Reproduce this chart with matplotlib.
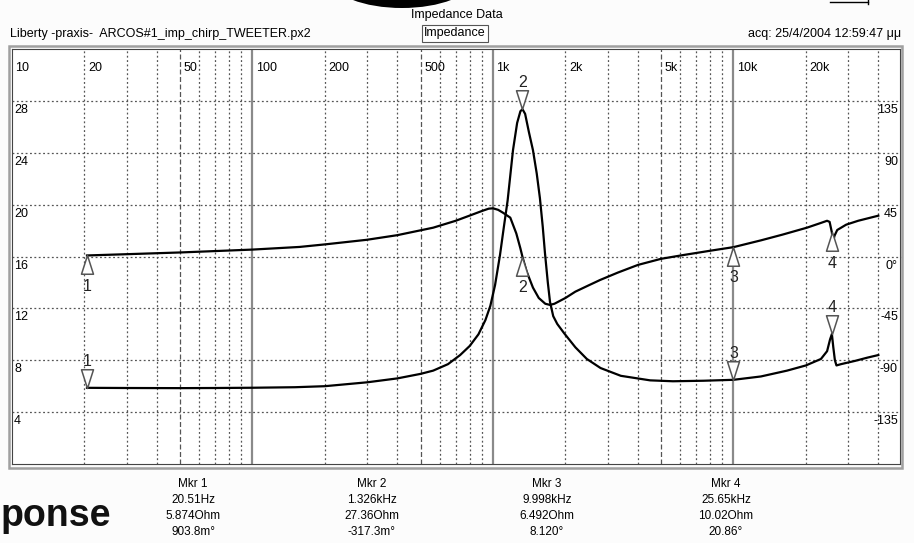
import matplotlib
matplotlib.use("Agg")
import matplotlib.pyplot as plt
from matplotlib.patches import Ellipse, Rectangle
from matplotlib.path import Path

plt.rcParams['font.family'] = ['Liberation Sans', 'DejaVu Sans']

# impedance magnitude (Hz, Ohm)
freq_mag = [20.5, 30, 50, 70, 100, 150, 200, 300, 400, 500, 564, 650, 730, 800,
            870, 930, 975, 1020, 1069, 1110, 1150, 1211, 1260, 1300, 1326, 1360,
            1410, 1466, 1520, 1567, 1610, 1644, 1690, 1726, 1780, 1850, 1973, 2200,
            2455, 2800, 3400, 4500, 5600, 7500, 9998, 13000, 16700, 20000, 23100,
            24500, 25200, 25650, 26000, 26400, 26800, 28000, 32000, 36000, 40000]
ohm_mag = [5.874, 5.86, 5.85, 5.86, 5.88, 5.92, 6.0, 6.3, 6.6, 6.95, 7.2, 7.7, 8.4, 9.1,
           10.0, 11.1, 12.2, 13.8, 16.1, 18.3, 20.3, 24.2, 26.3, 27.2, 27.36, 27.0,
           25.6, 24.2, 22.4, 20.5, 18.3, 16.3, 14.0, 12.5, 11.4, 10.8, 10.1, 9.0,
           8.1, 7.4, 6.8, 6.45, 6.38, 6.42, 6.492, 6.75, 7.2, 7.6, 8.1,
           8.7, 9.6, 10.02, 9.0, 8.0, 7.6, 7.7, 7.95, 8.2, 8.4]

# impedance phase (Hz, degrees)
freq_phase = [20.5, 30, 50, 100, 157, 200, 299, 400, 564, 700, 800, 900, 960, 1000,
              1050, 1100, 1180, 1250, 1300, 1326, 1380, 1466, 1550, 1650, 1726, 1800,
              2000, 2200, 2500, 2786, 3300, 4006, 5000, 6200, 8000, 9998, 13000,
              16000, 20200, 23000, 24500, 25100, 25650, 25900, 26300, 27000, 29400,
              33000, 40000]
deg_phase = [0.9038, 2.0, 3.5, 6.0, 8.3, 10.5, 14.5, 18.5, 25.0, 31.0, 35.5, 39.5, 41.5, 41.8,
             40.5, 38.0, 33.7, 20.0, 7.0, -0.3173, -13.0, -27.0, -36.0, -41.0, -42.0, -41.0,
             -36.0, -30.5, -25.0, -20.4, -14.0, -7.3, -2.0, 1.3, 5.0, 8.12, 14.0,
             19.0, 25.0, 29.0, 31.0, 30.0, 20.86, 12.0, 18.0, 23.0, 27.6,
             31.0, 35.4]

# markers
mkr_freq = [20.51, 1326, 9998, 25650]
mkr_ohm = [5.874, 27.36, 6.492, 10.02]
mkr_deg = [0.9038, -0.3173, 8.120, 20.86]
mkr_names = ["1", "2", "3", "4"]
mkr_rows = [["Mkr 1", "20.51Hz", "5.874Ohm", "903.8m°"],
            ["Mkr 2", "1.326kHz", "27.36Ohm", "-317.3m°"],
            ["Mkr 3", "9.998kHz", "6.492Ohm", "8.120°"],
            ["Mkr 4", "25.65kHz", "10.02Ohm", "20.86°"]]

# axes labels
x_ticks = [10, 20, 50, 100, 200, 500, 1000, 2000, 5000, 10000, 20000]
x_labels = ["10", "20", "50", "100", "200", "500", "1k", "2k", "5k", "10k", "20k"]
ohm_ticks = [4, 8, 12, 16, 20, 24, 28]
deg_ticks = [-135, -90, -45, 0, 45, 90, 135]
deg_labels = ["-135", "-90", "-45", "0°", "45", "90", "135"]

W, H = 914, 543
fig = plt.figure(figsize=(W / 100, H / 100), dpi=100)
fig.patch.set_facecolor('#fcfcfc')

# overlay in pixel coords for the page decorations
ov = fig.add_axes([0, 0, 1, 1], zorder=0)
ov.set_xlim(0, W)
ov.set_ylim(H, 0)
ov.axis('off')

L, R, T, B = 12, 900, 49, 464
ax = fig.add_axes([L / W, (H - B) / H, (R - L) / W, (B - T) / H], zorder=1)
ax.set_xscale('log')
xmax = 10 ** (1 + (R - L) / 240.5)
ax.set_xlim(10, xmax)
ax.set_ylim(0, 32)
ax.set_xticks([])
ax.set_yticks([])
ax.minorticks_off()
for s in ax.spines.values():
    s.set_color('#444444')
    s.set_linewidth(0.8)

# grid
dot = (0, (1.5, 2))
for dec in [10, 100, 1000, 10000]:
    for m in range(1, 10):
        f = dec * m
        if f <= 10 or f >= xmax:
            continue
        if m == 1:
            ax.axvline(f, color='#8a8a8a', lw=1.6, zorder=1)
        elif m == 5:
            ax.axvline(f, color='#555555', lw=0.9, ls=(0, (4, 2)), zorder=1)
        else:
            ax.axvline(f, color='#555555', lw=0.9, ls=dot, zorder=1)
for t in ohm_ticks:
    ax.axhline(t, color='#555555', lw=0.9, ls=dot, zorder=1)

# phase axis, same box
ax2 = ax.twinx()
ax2.set_ylim(-180, 180)
ax2.set_yticks([])
ax2.minorticks_off()
for s in ax2.spines.values():
    s.set_visible(False)

ax.plot(freq_mag, ohm_mag, color='black', lw=1.6, zorder=3)
ax2.plot(freq_phase, deg_phase, color='black', lw=1.6, zorder=3)

# triangle markers with the tip on the trace
down_tri = Path([(0, 0), (-0.32, 1), (0.32, 1), (0, 0)], closed=True)
up_tri = Path([(0, 0), (-0.32, -1), (0.32, -1), (0, 0)], closed=True)
ax.plot(mkr_freq, mkr_ohm, ls='none', marker=down_tri, ms=27, mfc='white',
        mec='#555555', mew=1.1, zorder=4)
ax2.plot(mkr_freq, mkr_deg, ls='none', marker=up_tri, ms=27, mfc='white',
         mec='#555555', mew=1.1, zorder=4)
for f, z, p, n in zip(mkr_freq, mkr_ohm, mkr_deg, mkr_names):
    ax.annotate(n, (f, z), xytext=(0, 19), textcoords='offset points',
                ha='center', va='center', fontsize=11.5, color='#222222')
    ax2.annotate(n, (f, p), xytext=(0, -22), textcoords='offset points',
                 ha='center', va='center', fontsize=11.5, color='#222222')

# inside tick labels
for f, lbl in zip(x_ticks, x_labels):
    ax.annotate(lbl, (f, 32), xytext=(2.5, -13.5), textcoords='offset points',
                ha='left', va='center', fontsize=9)
for t in ohm_ticks:
    ax.annotate(str(t), (10, t), xytext=(1.5, -6.5), textcoords='offset points',
                ha='left', va='center', fontsize=9)
for d, lbl in zip(deg_ticks, deg_labels):
    ax2.annotate(lbl, (xmax, d), xytext=(-1.5, -6.5), textcoords='offset points',
                 ha='right', va='center', fontsize=9)

# zero-phase wedge
ov.plot([883, 900, 900], [257, 249, 257], color='#555555', lw=0.9, zorder=5)
ov.plot([883, 900], [257, 257], color='#555555', lw=0.9, zorder=5)

# page decorations
ov.add_patch(Rectangle((9, 46), 893, 422, fill=False, ec='#a0a0a0', lw=1.8))
ov.add_patch(Ellipse((402, -20), 140, 56, fc='black', ec='none'))
ov.plot([830, 868], [2, 2], color='black', lw=1)
ov.plot([868, 868], [0, 4], color='black', lw=1)

ov.text(457, 15, "Impedance Data", ha='center', va='center', fontsize=9)
ov.text(10, 34, "Liberty -praxis-  ARCOS#1_imp_chirp_TWEETER.px2", ha='left',
        va='center', fontsize=9)
ov.text(455, 33, "Impedance", ha='center', va='center', fontsize=9,
        bbox=dict(boxstyle='square,pad=0.2', fc='white', ec='#555555', lw=0.8))
ov.text(901, 34, "acq: 25/4/2004 12:59:47 μμ", ha='right', va='center', fontsize=9)

col_x = [193, 372, 547, 726]
row_y = [484, 500, 516, 532]
for cx, rows in zip(col_x, mkr_rows):
    for ry, txt in zip(row_y, rows):
        ov.text(cx, ry, txt, ha='center', va='center', fontsize=8.5)

ov.text(1, 526, "ponse", ha='left', va='baseline', fontsize=27,
        fontweight='bold', color='#111111')

fig.savefig('out.png', dpi=100, facecolor=fig.get_facecolor())
